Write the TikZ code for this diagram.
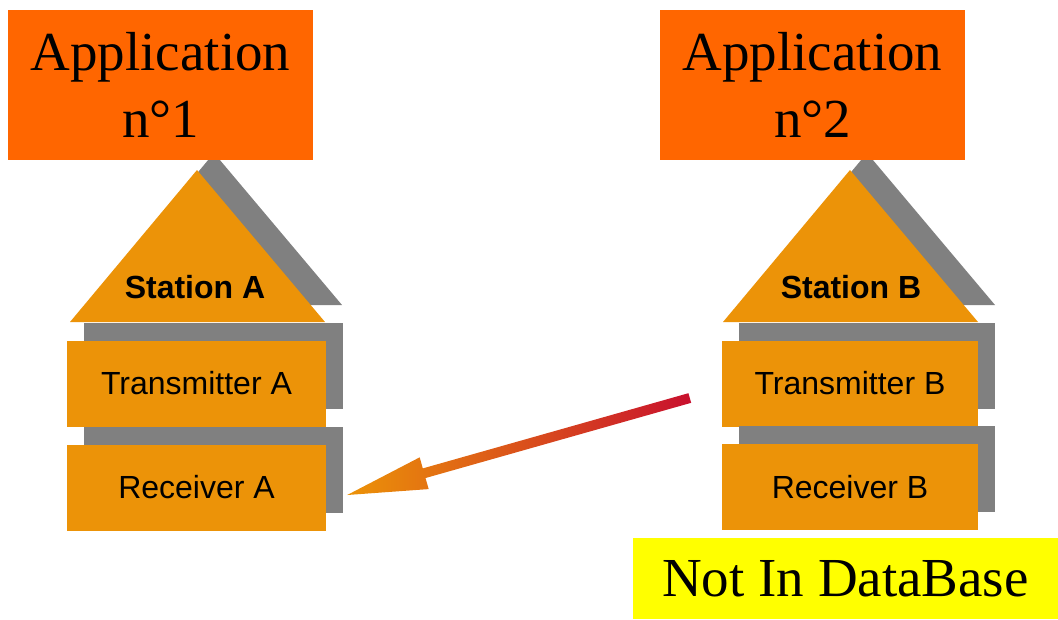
\documentclass[tikz,border=0pt]{standalone}
\usepackage{fontspec}
\setmainfont{Liberation Serif}
\setsansfont{Liberation Sans}
\usetikzlibrary{calc,shadows}
\definecolor{apporange}{HTML}{FF6600}
\definecolor{storange}{HTML}{EC9308}
\definecolor{shgray}{HTML}{808080}
\definecolor{arrred}{HTML}{C8102E}
\definecolor{dbyellow}{HTML}{FFFF00}
\tikzset{
  appbox/.style={fill=apporange, minimum width=305pt, minimum height=150pt, inner sep=0pt,
    align=center, font=\fontsize{55}{67}\selectfont},
  layerbox/.style={fill=storange, minimum height=86pt, inner sep=0pt,
    font=\sffamily\fontsize{32}{38}\selectfont,
    general shadow={fill=shgray, shadow xshift=17pt, shadow yshift=18pt}},
  roof/.style={fill=storange},
  roofshadow/.style={fill=shgray},
  stlabel/.style={font=\sffamily\bfseries\fontsize{32}{38}\selectfont, inner sep=0pt},
  dbbox/.style={fill=dbyellow, inner sep=0pt, font=\fontsize{55}{67}\selectfont},
  gradarrow/.style={left color=storange, right color=arrred}
}
\begin{document}
\begin{tikzpicture}[x=1pt,y=-1pt]
\useasboundingbox (0,0) rectangle (1058,619);
% roofs with shadows
\fill[roofshadow] (214,153) -- (87,305) -- (342,305) -- cycle;
\fill[roof] (197,170) -- (70,322) -- (325,322) -- cycle;
\fill[roofshadow] (867,153) -- (740,305) -- (995,305) -- cycle;
\fill[roof] (850,170) -- (723,322) -- (978,322) -- cycle;
\node[stlabel] (sA) at (195,287) {Station A};
\node[stlabel] (sB) at (851,287) {Station B};
% layers
\node[layerbox, minimum width=259pt] (tA) at (196.5,383.5) {Transmitter A};
\node[layerbox, minimum width=259pt] (rA) at (196.5,487.5) {Receiver A};
\node[layerbox, minimum width=256pt] (tB) at (850,383.5) {Transmitter B};
\node[layerbox, minimum width=256pt] (rB) at (850,487) {Receiver B};
% applications
\node[appbox] (app1) at (160.5,85) {Application\\n°1};
\node[appbox] (app2) at (812.5,85) {Application\\n°2};
% database note
\node[dbbox, minimum width=425pt, minimum height=81pt] (db) at (845.5,578.5) {Not In DataBase};
% gradient arrow from Transmitter B to Receiver A
\coordinate (as) at ($(tB.west)+(-32,14.5)$);
\coordinate (ae) at ($(rA.east)+(21,7.5)$);
\coordinate (hb) at ($(ae)!80pt!(as)$);
\shade[gradarrow]
  ($(as)!5pt!90:(ae)$) -- ($(hb)!5pt!90:(ae)$) -- ($(hb)!16.5pt!90:(ae)$) -- (ae)
  -- ($(hb)!16.5pt!-90:(ae)$) -- ($(hb)!5pt!-90:(ae)$) -- ($(as)!5pt!-90:(ae)$) -- cycle;
\end{tikzpicture}
\end{document}
